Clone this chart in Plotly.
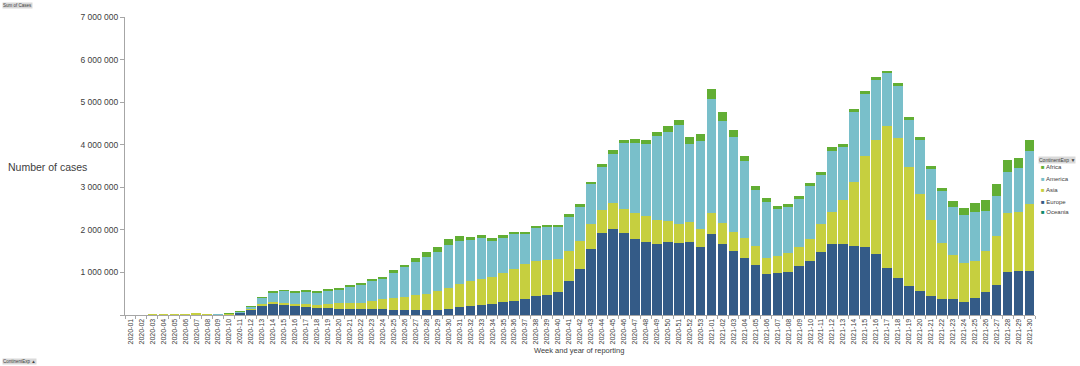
import plotly.graph_objects as go

weeks = [f"2020-{i:02d}" for i in range(1, 54)] + [f"2021-{i:02d}" for i in range(1, 31)]

# values in thousands of cases
europe = [0, 0, 0, 0, 0, 0, 0, 0, 3, 15, 55, 134, 227, 250, 243, 211, 195, 172, 172, 148,
          134, 134, 134, 134, 125, 118, 125, 110, 125, 134, 190, 210, 230, 260, 300, 330, 375, 440, 470, 550,
          800, 1090, 1540, 1920, 2030, 1920, 1780, 1710, 1660, 1710, 1680, 1720, 1590,
          1900, 1660, 1500, 1330, 1170, 955, 980, 1010, 1140, 1270, 1470, 1670, 1670, 1610, 1600, 1430,
          1100, 876, 680, 556, 446, 368, 368, 305, 406, 548, 697, 1020, 1030, 1040]
asia = [0, 0.1, 0.5, 5, 15, 20, 30, 10, 8, 12, 10, 16, 23, 48, 47, 47, 55, 70, 85, 126,
        148, 155, 202, 249, 274, 302, 335, 380, 425, 496, 545, 590, 615, 630, 680, 740, 825, 830, 820, 770,
        710, 650, 600, 550, 610, 580, 610, 620, 580, 500, 460, 460, 440,
        490, 490, 460, 470, 440, 395, 410, 440, 460, 510, 670, 760, 1040, 1520, 2140, 2670,
        3340, 3274, 2790, 2294, 1784, 1322, 1042, 915, 864, 962, 1153, 1370, 1380, 1570]
america = [0, 0, 0, 0, 0, 0, 0, 0, 1, 3, 10, 40, 155, 237, 275, 272, 310, 290, 318, 326,
           383, 431, 455, 462, 595, 698, 790, 870, 920, 1010, 1005, 950, 965, 850, 830, 830, 720, 780, 770, 750,
           800, 800, 930, 1010, 1140, 1530, 1660, 1680, 1970, 2100, 2330, 1830, 2060,
           2690, 2400, 2210, 1810, 1330, 1310, 1100, 1090, 1120, 1260, 1150, 1430, 1230, 1630, 1440, 1430,
           1250, 1230, 1120, 1260, 1200, 1220, 1130, 1130, 1160, 940, 950, 970, 1050, 1230]
africa = [0, 0, 0, 0, 0, 0, 0, 0, 0, 0.1, 0.5, 3, 10, 12, 15, 17, 20, 23, 28, 34,
          39, 40, 47, 55, 55, 63, 80, 110, 130, 140, 110, 90, 80, 70, 70, 50, 40, 50, 50, 50,
          60, 70, 60, 70, 90, 90, 90, 90, 100, 120, 120, 160, 160,
          230, 220, 170, 120, 100, 90, 80, 70, 70, 70, 70, 80, 70, 70, 90, 70,
          50, 60, 70, 80, 70, 70, 130, 160, 210, 250, 280, 290, 230, 260]
oceania = [0, 0, 0, 0, 0, 0, 0, 0, 0, 0.1, 0.3, 1, 2, 2, 1, 0.5, 0.3, 0.2, 0.1, 0.1,
           0.1, 0.1, 0.1, 0.1, 0.2, 0.3, 1, 2, 3, 3, 3, 2, 1, 1, 1, 0.5, 0.3, 0.3, 0.3, 0.3,
           0.3, 0.3, 0.3, 0.3, 0.3, 0.3, 0.3, 0.3, 0.3, 0.3, 0.3, 0.3, 0.3,
           0.3, 0.3, 0.3, 0.3, 0.3, 0.3, 0.3, 0.3, 0.3, 0.3, 0.3, 0.3, 0.3, 0.3, 0.3, 0.3,
           0.3, 0.3, 0.3, 0.3, 0.3, 0.3, 0.3, 0.3, 0.3, 0.3, 0.3, 0.3, 0.5, 1]

series = [
    ("Oceania", oceania, "#0e8a6c"),
    ("Europe", europe, "#345b87"),
    ("Asia", asia, "#c6cf3f"),
    ("America", america, "#79bfca"),
    ("Africa", africa, "#62ae34"),
]

font = "Liberation Sans"
txt = "#404040"
W, H = 1080, 366
ML, MR, MT, MB = 125, 45, 17, 51
PW, PH = W - ML - MR, H - MT - MB


def px(x):
    return (x - ML) / PW


def py(y):
    return (H - MB - y) / PH


fig = go.Figure()
for name, vals, col in series:
    fig.add_trace(go.Bar(
        x=weeks, y=[v * 1000 for v in vals], name=name,
        marker=dict(color=col, line=dict(width=0)), showlegend=False,
    ))

ytick = [0, 1e6, 2e6, 3e6, 4e6, 5e6, 6e6, 7e6]
ytext = ["", "1 000 000", "2 000 000", "3 000 000", "4 000 000", "5 000 000", "6 000 000", "7 000 000"]

annotations = [
    dict(text="Number of cases", x=px(47), y=py(167), xanchor="center", yanchor="middle",
         font=dict(size=10.5, family=font, color=txt)),
    dict(text="Week and year of reporting", x=px(579), y=py(350), xanchor="center", yanchor="middle",
         font=dict(size=7.5, family=font, color=txt)),
    dict(text="Sum of Cases", x=px(2), y=py(2), xanchor="left", yanchor="top", bgcolor="#d9d9d9",
         font=dict(size=4.5, family=font, color=txt), borderpad=0),
    dict(text="ContinentExp ▲", x=px(2), y=py(365), xanchor="left", yanchor="bottom", bgcolor="#d9d9d9",
         font=dict(size=4.5, family=font, color=txt), borderpad=0),
    dict(text="ContinentExp ▼", x=px(1038), y=py(160), xanchor="left", yanchor="middle", bgcolor="#d9d9d9",
         font=dict(size=5, family=font, color=txt), borderpad=0),
]
leg_y = [167, 178.5, 190, 201.5, 212]
for (name, vals, col), yy in zip(reversed(series), leg_y):
    annotations.append(dict(
        text=f"<span style='color:{col}'>■</span> {name}", x=px(1039), y=py(yy),
        xanchor="left", yanchor="middle", font=dict(size=6, family=font, color=txt)))
for a in annotations:
    a.update(xref="paper", yref="paper", showarrow=False)

fig.update_layout(
    barmode="stack",
    bargap=0.12,
    width=W, height=H,
    margin=dict(l=ML, r=MR, t=MT, b=MB, autoexpand=False),
    paper_bgcolor="white", plot_bgcolor="white",
    font=dict(family=font, color=txt),
    showlegend=False,
    xaxis=dict(
        type="category", tickmode="array", tickvals=weeks, ticktext=weeks,
        tickangle=-90, tickfont=dict(size=7, family=font, color=txt),
        showline=True, linecolor="#a6a6a6", linewidth=1,
        ticks="outside", ticklen=3, tickcolor="#a6a6a6", tickson="boundaries",
        showgrid=False, automargin=False,
    ),
    yaxis=dict(
        range=[0, 7e6], tickmode="array", tickvals=ytick, ticktext=ytext,
        tickfont=dict(size=8.5, family=font, color=txt),
        showline=True, linecolor="#a6a6a6", linewidth=1,
        ticks="outside", ticklen=4, tickcolor="#a6a6a6",
        showgrid=False, zeroline=False, automargin=False,
    ),
    annotations=annotations,
)

fig.write_html("out.html", config={"displayModeBar": False},
               post_script="document.body.style.margin='0px';document.body.style.overflow='hidden';")
